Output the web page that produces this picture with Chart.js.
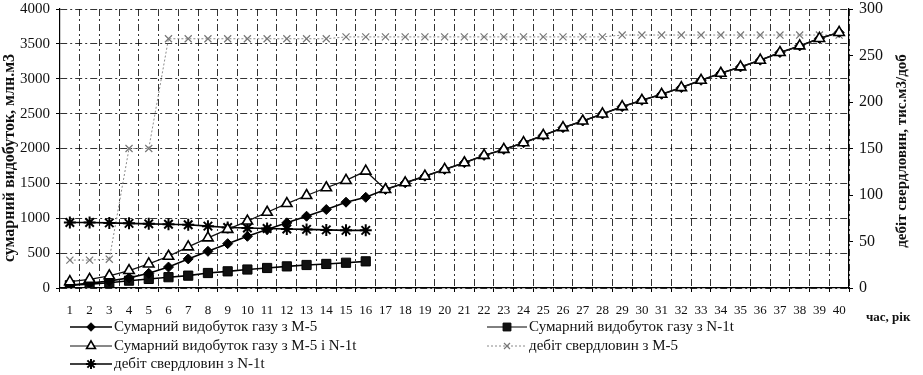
<!DOCTYPE html>
<html>
<head>
<meta charset="utf-8">
<script src="https://cdn.jsdelivr.net/npm/chart.js@4"></script>
<style>
  html, body { margin: 0; padding: 0; background: #fff; }
  #wrap { width: 923px; height: 375px; position: relative; }
</style>
</head>
<body>
<div id="wrap"><canvas id="chart"></canvas></div>
<script>
// ---------------------- Data ----------------------
const years = ["1", "2", "3", "4", "5", "6", "7", "8", "9", "10",
  "11", "12", "13", "14", "15", "16", "17", "18", "19", "20",
  "21", "22", "23", "24", "25", "26", "27", "28", "29", "30",
  "31", "32", "33", "34", "35", "36", "37", "38", "39", "40"];

// cumulative production, mln m3 (left axis)
const gasM5 = [40, 70, 100, 145, 210, 300, 417, 526, 636, 741,
  838, 934, 1029, 1125, 1230, 1300, 1412, 1508, 1603, 1700,
  1796, 1901, 1987, 2083, 2188, 2299, 2394, 2495, 2600, 2691,
  2777, 2873, 2978, 3079, 3170, 3266, 3376, 3471, 3578, 3664];
const gasN1t = [40, 55, 75, 105, 130, 155, 177, 215, 239, 265,
  287, 310, 330, 345, 362, 382];
const gasTotal = [90, 125, 175, 250, 345, 455, 590, 718, 840, 960,
  1086, 1211, 1326, 1437, 1542, 1676, 1412, 1508, 1603, 1700,
  1796, 1901, 1987, 2083, 2188, 2299, 2394, 2495, 2600, 2691,
  2777, 2873, 2978, 3079, 3170, 3266, 3376, 3471, 3578, 3664];

// well rate, thousand m3/day (right axis)
const debitM5 = [30, 30, 31, 150, 150, 268, 268, 268, 268, 268,
  268, 268, 268, 268, 270, 270, 270, 270, 270, 270,
  270, 270, 270, 270, 270, 270, 270, 270, 272, 272,
  272, 272, 272, 272, 272, 272, 272, 272, 272, 272];
const debitN1t = [70.5, 70.5, 70, 69.5, 69, 68.5, 68, 66.5, 65, 64.5,
  64, 63.5, 63, 62.5, 62, 62];

const leftTicks = [0, 500, 1000, 1500, 2000, 2500, 3000, 3500, 4000];
const rightTicks = [0, 50, 100, 150, 200, 250, 300];

const leftTitle = "сумарний видобуток, млн.м3";
const rightTitle = "дебіт свердловин, тис.м3/доб";
const xTitle = "час, рік";
const seriesNames = [
  "Сумарний видобуток газу з M-5",
  "Сумарний видобуток газу з N-1t",
  "Сумарний видобуток газу з M-5 і N-1t",
  "дебіт свердловин з M-5",
  "дебіт свердловин з N-1t"
];

const SERIF = '"Liberation Serif", "Times New Roman", serif';

// ---------------------- Datasets ----------------------
const dsTotal = {
  label: seriesNames[2], data: gasTotal, yAxisID: "y",
  borderColor: "#111", borderWidth: 1.3,
  pointStyle: "triangle", pointRadius: 6,
  pointBackgroundColor: "#fff", pointBorderColor: "#000", pointBorderWidth: 1.6
};
const dsM5 = {
  label: seriesNames[0], data: gasM5, yAxisID: "y",
  borderColor: "#000", borderWidth: 1.6,
  pointStyle: "rectRot", pointRadius: 5,
  pointBackgroundColor: "#000", pointBorderColor: "#000", pointBorderWidth: 1
};
const dsN1t = {
  label: seriesNames[1], data: gasN1t, yAxisID: "y",
  borderColor: "#000", borderWidth: 1.6,
  pointStyle: "rect", pointRadius: 6.5,
  pointBackgroundColor: "#111", pointBorderColor: "#000", pointBorderWidth: 1
};
const dsDebitN1t = {
  label: seriesNames[4], data: debitN1t, yAxisID: "y1",
  borderColor: "#000", borderWidth: 1.6,
  pointStyle: "star", pointRadius: 6,
  pointBackgroundColor: "#000", pointBorderColor: "#000", pointBorderWidth: 2
};
const dsDebitM5 = {
  label: seriesNames[3], data: debitM5, yAxisID: "y1",
  borderColor: "#8a8a8a", borderWidth: 1, borderDash: [2, 2],
  pointStyle: "crossRot", pointRadius: 5,
  pointBackgroundColor: "#777", pointBorderColor: "#777", pointBorderWidth: 1.2
};

// ---------------------- Titles + legend ----------------------
const legendItems = [
  { ds: dsM5, x: 70, y: 327, len: 42 },
  { ds: dsN1t, x: 487, y: 327, len: 40, thin: true },
  { ds: dsTotal, x: 70, y: 346, len: 42, thin: true },
  { ds: dsDebitM5, x: 487, y: 346, len: 40 },
  { ds: dsDebitN1t, x: 70, y: 364, len: 42 }
];

// same shapes as the chart's point styles, for the legend keys
function drawMarker(ctx, style, x, y, r) {
  ctx.beginPath();
  if (style === "rectRot") {
    ctx.moveTo(x, y - r); ctx.lineTo(x + r, y); ctx.lineTo(x, y + r); ctx.lineTo(x - r, y);
    ctx.closePath(); ctx.fill(); ctx.stroke();
  } else if (style === "rect") {
    const h = r * Math.SQRT1_2;
    ctx.rect(x - h, y - h, 2 * h, 2 * h); ctx.fill(); ctx.stroke();
  } else if (style === "triangle") {
    for (let i = 0; i < 3; i++) {
      const a = i * 2 * Math.PI / 3;
      const px = x + Math.sin(a) * r, py = y - Math.cos(a) * r;
      i ? ctx.lineTo(px, py) : ctx.moveTo(px, py);
    }
    ctx.closePath(); ctx.fill(); ctx.stroke();
  } else {
    const d = r * Math.SQRT1_2;
    ctx.moveTo(x - d, y - d); ctx.lineTo(x + d, y + d);
    ctx.moveTo(x - d, y + d); ctx.lineTo(x + d, y - d);
    if (style === "star") {
      ctx.moveTo(x, y - r); ctx.lineTo(x, y + r);
      ctx.moveTo(x - r, y); ctx.lineTo(x + r, y);
    }
    ctx.stroke();
  }
}

const extras = {
  id: "extras",
  afterDraw(chart) {
    const ctx = chart.ctx;
    ctx.save();
    ctx.fillStyle = "#111";
    ctx.textBaseline = "middle";

    // axis titles
    ctx.font = "bold 16px " + SERIF;
    ctx.textAlign = "center";
    ctx.save();
    ctx.translate(10, 158);
    ctx.rotate(-Math.PI / 2);
    ctx.fillText(leftTitle, 0, 0);
    ctx.restore();

    ctx.font = "bold 15px " + SERIF;
    ctx.save();
    ctx.translate(902, 151);
    ctx.rotate(-Math.PI / 2);
    ctx.fillText(rightTitle, 0, 0);
    ctx.restore();

    ctx.font = "bold 13px " + SERIF;
    ctx.textAlign = "left";
    ctx.fillText(xTitle, 866, 318);

    // legend
    legendItems.forEach(item => {
      const ds = item.ds;
      ctx.save();
      ctx.strokeStyle = ds.borderColor;
      ctx.lineWidth = item.thin ? 1 : ds.borderWidth;
      ctx.setLineDash(ds.borderDash || []);
      ctx.beginPath();
      ctx.moveTo(item.x, item.y);
      ctx.lineTo(item.x + item.len, item.y);
      ctx.stroke();
      ctx.setLineDash([]);
      ctx.fillStyle = ds.pointBackgroundColor;
      ctx.strokeStyle = ds.pointBorderColor;
      ctx.lineWidth = ds.pointBorderWidth;
      drawMarker(ctx, ds.pointStyle, item.x + item.len / 2, item.y, ds.pointRadius * 0.85);
      ctx.restore();

      ctx.fillStyle = "#111";
      ctx.font = "15px " + SERIF;
      ctx.textAlign = "left";
      ctx.fillText(ds.label, item.x + item.len + 2, item.y);
    });
    ctx.restore();
  }
};

// ---------------------- Chart ----------------------
const gridDash = [7, 3, 2, 3];
const gridColor = "rgba(0,0,0,0.8)";

// keep the plot box where the picture has it, no extra room for tick labels
function fixWidth(w) {
  return s => { s.width = w; s.paddingTop = 0; s.paddingBottom = 0; };
}

new Chart(document.getElementById("chart"), {
  type: "line",
  data: {
    labels: years,
    datasets: [dsTotal, dsM5, dsN1t, dsDebitN1t, dsDebitM5]
  },
  options: {
    responsive: true,
    maintainAspectRatio: false,
    animation: false,
    layout: { padding: { top: 9, left: 0, right: 0, bottom: 0 } },
    plugins: {
      legend: { display: false },
      tooltip: { enabled: false }
    },
    elements: { line: { tension: 0 } },
    scales: {
      x: {
        type: "category",
        offset: true,
        grid: {
          offset: true,
          color: gridColor,
          lineWidth: 1,
          tickLength: 4,
          tickColor: "#000"
        },
        border: { color: "#000", width: 1.2, dash: gridDash },
        ticks: {
          color: "#111",
          font: { family: SERIF, size: 13 },
          padding: 11,
          maxRotation: 0,
          autoSkip: false
        },
        afterFit: s => { s.height = 87; s.paddingLeft = 0; s.paddingRight = 0; }
      },
      y: {
        position: "left",
        min: 0, max: 4000,
        afterBuildTicks: s => { s.ticks = leftTicks.map(v => ({ value: v })); },
        grid: {
          color: gridColor,
          lineWidth: 1,
          tickLength: 4,
          tickColor: "#000"
        },
        border: { color: "#000", width: 1.2, dash: gridDash },
        ticks: {
          color: "#111",
          font: { family: SERIF, size: 15 },
          padding: 6,
          callback: v => String(v)
        },
        afterFit: fixWidth(60)
      },
      y1: {
        position: "right",
        min: 0, max: 300,
        afterBuildTicks: s => { s.ticks = rightTicks.map(v => ({ value: v })); },
        grid: {
          drawOnChartArea: false,
          tickLength: 4,
          tickColor: "#000"
        },
        border: { color: "#000", width: 1.2 },
        ticks: {
          color: "#111",
          font: { family: SERIF, size: 16 },
          padding: 6,
          callback: v => String(v)
        },
        afterFit: fixWidth(74)
      }
    }
  },
  plugins: [extras]
});
</script>
</body>
</html>
